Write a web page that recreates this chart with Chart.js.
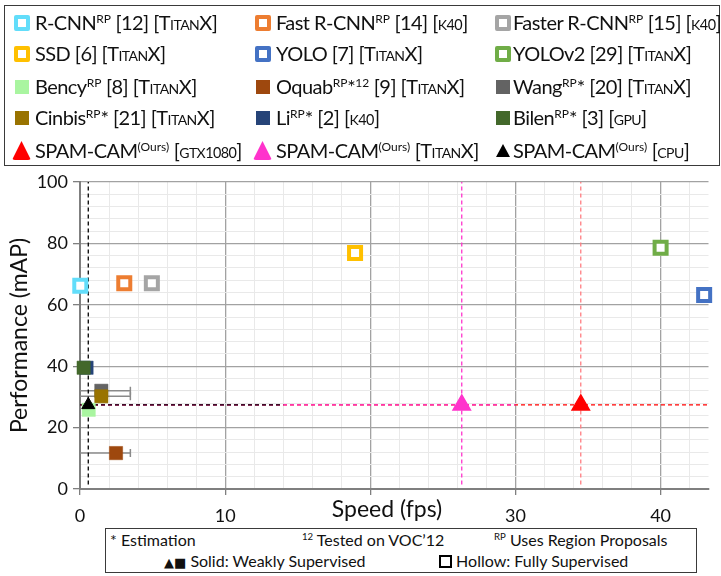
<!DOCTYPE html>
<html>
<head>
<meta charset="utf-8">
<script src="https://cdn.jsdelivr.net/npm/chart.js@4.4.0/dist/chart.umd.min.js"></script>
<style>
  body { margin: 0; background: #fff; font-family: Lato, 'Open Sans', sans-serif; }
  #wrap { position: relative; width: 721px; height: 576px; overflow: hidden; }
  #cv { position: absolute; left: 0; top: 0; }
  .box { position: absolute; border: 1.5px solid #3a3a3a; background: #fff; box-sizing: border-box; }
  .lg-item { position: absolute; height: 26px; line-height: 26px; font-size: 20px; letter-spacing: -0.55px; color: #111; white-space: nowrap; }
  .lg-item sup, .note sup { font-size: 0.6em; vertical-align: 0.6em; line-height: 0; letter-spacing: 0; }
  .sc { font-variant: small-caps; }
  .sm { font-size: 0.72em; }
  .ico { position: absolute; box-sizing: border-box; }
  .note { position: absolute; font-size: 16px; color: #111; white-space: nowrap; line-height: 20px; }
</style>
</head>
<body>
<div id="wrap">
  <canvas id="cv" width="721" height="576"></canvas>
  <div id="legend" class="box" style="left:4px;top:5px;width:716px;height:161px;"></div>
  <div id="notes" class="box" style="left:105px;top:528px;width:592px;height:45px;"></div>
</div>
<script>
// ===== Speed vs performance of detectors =====
const methods = ['R-CNN', 'Fast R-CNN', 'Faster R-CNN', 'SSD', 'YOLO', 'YOLOv2',
  'Bency', 'Oquab', 'Wang', 'Cinbis', 'Li', 'Bilen',
  'SPAM-CAM GTX1080', 'SPAM-CAM TitanX', 'SPAM-CAM CPU'];
const speedFps = [0.02, 3.05, 4.95, 18.95, 43.0, 40.0, 0.6, 2.48, 1.47, 1.47, 0.45, 0.25, 34.5, 26.3, 0.57];
const perfMap  = [66.2, 67.0, 67.0, 76.9, 63.2, 78.6, 25.8, 11.7, 32.0, 30.2, 39.5, 39.5, 27.4, 27.4, 27.4];
const markerColors = ['#62DDFA', '#ED7D31', '#A5A5A5', '#FFC000', '#4472C4', '#70AD47',
  '#A9F5A0', '#9E480E', '#636363', '#997300', '#264478', '#43682B',
  '#FF0000', '#FF33CC', '#000000'];
const markerKind = ['hollow', 'hollow', 'hollow', 'hollow', 'hollow', 'hollow',
  'solid', 'solid', 'solid', 'solid', 'solid', 'solid',
  'tri', 'tri', 'triSmall'];
// drawing order (lower = on top)
const markerOrder = [5, 5, 5, 5, 5, 5, 4, 4, 5, 4, 5, 4, 1, 1, 1];

const legendLabels = [
  'R-CNN<sup>RP</sup> [12] [<span class="sc">TitanX</span>]',
  'Fast R-CNN<sup>RP</sup> [14] [<span class="sc">k</span><span class="sm">40</span>]',
  'Faster R-CNN<sup>RP</sup> [15] [<span class="sc">k</span><span class="sm">40</span>]',
  'SSD [6] [<span class="sc">TitanX</span>]',
  'YOLO [7] [<span class="sc">TitanX</span>]',
  'YOLOv2 [29] [<span class="sc">TitanX</span>]',
  'Bency<sup>RP</sup> [8] [<span class="sc">TitanX</span>]',
  'Oquab<sup>RP</sup>*<sup>12</sup> [9] [<span class="sc">TitanX</span>]',
  'Wang<sup>RP</sup>* [20] [<span class="sc">TitanX</span>]',
  'Cinbis<sup>RP</sup>* [21] [<span class="sc">TitanX</span>]',
  'Li<sup>RP</sup>* [2] [<span class="sc">k</span><span class="sm">40</span>]',
  'Bilen<sup>RP</sup>* [3] [<span class="sc">gpu</span>]',
  'SPAM-CAM<sup>(Ours)</sup> [<span class="sc">gtx</span><span class="sm">1080</span>]',
  'SPAM-CAM<sup>(Ours)</sup> [<span class="sc">TitanX</span>]',
  'SPAM-CAM<sup>(Ours)</sup> [<span class="sc">cpu</span>]'
];

// error bars (speed range) for estimated methods
const errMethods = ['Oquab', 'Wang', 'Cinbis'];
const errFrom = [0, 0, 0];
const errTo = [3.47, 3.47, 3.47];

// dashed guide lines through SPAM-CAM points
const guideMethods = ['SPAM-CAM GTX1080', 'SPAM-CAM TitanX', 'SPAM-CAM CPU'];
const guideHEnd = [43.3, 30, 14];
const guideVRange = [1.5, 100];
const guideHColors = ['#FF0000', '#FF33CC', '#000000'];
const guideVColors = ['#FF7C80', '#FF33CC', '#000000'];

const xTicksMax = 43.3;

// ---- legend (html) ----
const colX = [13, 254, 494];
const rowY = [22, 53, 86, 117, 150];
const lg = document.getElementById('legend');
lg.innerHTML = methods.map((m, i) => {
  const cx = colX[i % 3] - 4, cy = rowY[Math.floor(i / 3)] - 5;
  const c = markerColors[i];
  let ico;
  if (markerKind[i] === 'hollow')
    ico = `<span class="ico" style="left:${cx}px;top:${cy - 8}px;width:16px;height:16px;border:4px solid ${c};border-radius:2px;background:#fff"></span>`;
  else if (markerKind[i] === 'solid')
    ico = `<span class="ico" style="left:${cx + 1}px;top:${cy - 7}px;width:14px;height:14px;background:${c}"></span>`;
  else if (markerKind[i] === 'tri')
    ico = `<span class="ico" style="left:${cx - 2}px;top:${cy - 10}px;width:19px;height:19px;background:${c};clip-path:polygon(50% 0,100% 100%,0 100%);border-radius:3px"></span>`;
  else
    ico = `<span class="ico" style="left:${cx + 1}px;top:${cy - 7}px;width:14px;height:13px;background:${c};clip-path:polygon(50% 0,100% 100%,0 100%)"></span>`;
  const tx = colX[i % 3] - 4 + (i % 3 === 2 ? 18 : 21);
  return ico + `<div class="lg-item" style="left:${tx}px;top:${cy - 14}px">${legendLabels[i]}</div>`;
}).join('');

document.getElementById('notes').innerHTML = `
  <div class="note" style="left:4px;top:1px">* Estimation</div>
  <div class="note" style="left:196px;top:1px"><sup>12</sup> Tested on VOC’12</div>
  <div class="note" style="left:388px;top:1px"><sup>RP</sup> Uses Region Proposals</div>
  <div class="note" style="left:58px;top:22px"><span style="font-family:'DejaVu Sans';font-size:13px">▲■</span> Solid: Weakly Supervised</div>
  <div class="note" style="left:333px;top:22px"><span style="display:inline-block;width:13px;height:13px;border:2.5px solid #000;box-sizing:border-box;vertical-align:-1px"></span> Hollow: Fully Supervised</div>`;

// ---- datasets ----
const datasets = [];
methods.forEach((m, i) => {
  const k = markerKind[i];
  const ds = {
    label: m, data: [{ x: speedFps[i], y: perfMap[i] }], order: markerOrder[i], clip: false,
    pointBorderColor: markerColors[i]
  };
  if (k === 'hollow') Object.assign(ds, { pointStyle: 'rect', pointRadius: 8.5, pointBorderWidth: 4, pointBackgroundColor: '#fff' });
  else if (k === 'solid') Object.assign(ds, { pointStyle: 'rect', pointRadius: 9.4, pointBorderWidth: 0.5, pointBackgroundColor: markerColors[i] });
  else if (k === 'tri') Object.assign(ds, { pointStyle: 'triangle', pointRadius: 10, pointBorderWidth: 1.5, pointBackgroundColor: markerColors[i] });
  else Object.assign(ds, { pointStyle: 'triangle', pointRadius: 7.5, pointBorderWidth: 1, pointBackgroundColor: markerColors[i] });
  datasets.push(ds);
});
guideMethods.forEach((m, j) => {
  const i = methods.indexOf(m);
  datasets.push({
    label: m + ' h', showLine: true, pointRadius: 0, borderWidth: 1.3, borderDash: [4, 3],
    borderColor: guideHColors[j], order: 12 - j,
    data: [{ x: 0, y: perfMap[i] }, { x: guideHEnd[j], y: perfMap[i] }]
  });
  datasets.push({
    label: m + ' v', showLine: true, pointRadius: 0, borderWidth: 1.3, borderDash: [4, 3],
    borderColor: guideVColors[j], order: 12 - j,
    data: [{ x: speedFps[i], y: guideVRange[0] }, { x: speedFps[i], y: guideVRange[1] }]
  });
});

const errorBars = {
  id: 'errorBars',
  beforeDatasetsDraw(chart) {
    const { ctx, scales: { x, y } } = chart;
    ctx.save();
    ctx.strokeStyle = '#8a8a8a';
    ctx.lineWidth = 1.5;
    errMethods.forEach((m, j) => {
      const i = methods.indexOf(m);
      const py = y.getPixelForValue(perfMap[i]);
      const x0 = x.getPixelForValue(errFrom[j]), x1 = x.getPixelForValue(errTo[j]);
      ctx.beginPath();
      ctx.moveTo(x0, py); ctx.lineTo(x1, py);
      ctx.moveTo(x1, py - 4); ctx.lineTo(x1, py + 4);
      ctx.stroke();
    });
    ctx.restore();
  }
};

const xTitle = {
  id: 'xTitle',
  afterDraw(chart) {
    const { ctx } = chart;
    ctx.save();
    ctx.fillStyle = '#fff';
    ctx.fillRect(322, 497, 130, 27);
    ctx.fillStyle = '#111';
    ctx.font = '23px Lato';
    ctx.textAlign = 'center';
    ctx.textBaseline = 'middle';
    ctx.fillText('Speed (fps)', 387, 510);
    ctx.restore();
  }
};

const major = (v, step) => Math.abs(v / step - Math.round(v / step)) < 1e-6;

new Chart(document.getElementById('cv'), {
  type: 'scatter',
  data: { datasets },
  plugins: [errorBars, xTitle],
  options: {
    responsive: false, animation: false, events: [],
    layout: { padding: { top: 182, left: 0, right: 0, bottom: 0 } },
    plugins: { legend: { display: false }, tooltip: { enabled: false } },
    scales: {
      x: {
        type: 'linear', min: 0, max: xTicksMax,
        afterFit(s) { s.height = 87; },
        ticks: {
          stepSize: 2, includeBounds: false, autoSkip: false, maxRotation: 0, padding: 10,
          color: '#111', font: { family: 'Lato', size: 18 },
          callback: v => major(v, 10) ? String(v) : ''
        },
        grid: {
          color: c => major(c.tick.value, 10) ? '#a2a2a2' : '#e9e9e9',
          lineWidth: c => major(c.tick.value, 10) ? 1.3 : 1,
          tickColor: c => major(c.tick.value, 10) ? '#7f7f7f' : 'rgba(0,0,0,0)',
          tickLength: 6
        },
        border: { color: '#7f7f7f', width: 2 }
      },
      y: {
        type: 'linear', min: 0, max: 100,
        afterFit(s) { s.width = 80; },
        title: { display: true, text: 'Performance (mAP)', color: '#111', font: { family: 'Lato', size: 23 }, padding: { top: 6, bottom: 0 } },
        ticks: {
          stepSize: 4, autoSkip: false, padding: 5,
          color: '#111', font: { family: 'Lato', size: 18 },
          callback: v => major(v, 20) ? String(v) : ''
        },
        grid: {
          color: c => major(c.tick.value, 20) ? '#a2a2a2' : '#e9e9e9',
          lineWidth: c => major(c.tick.value, 20) ? 1.3 : 1,
          tickColor: c => major(c.tick.value, 20) ? '#7f7f7f' : 'rgba(0,0,0,0)',
          tickLength: 7
        },
        border: { color: '#7f7f7f', width: 2 }
      }
    }
  }
});
</script>
</body>
</html>
